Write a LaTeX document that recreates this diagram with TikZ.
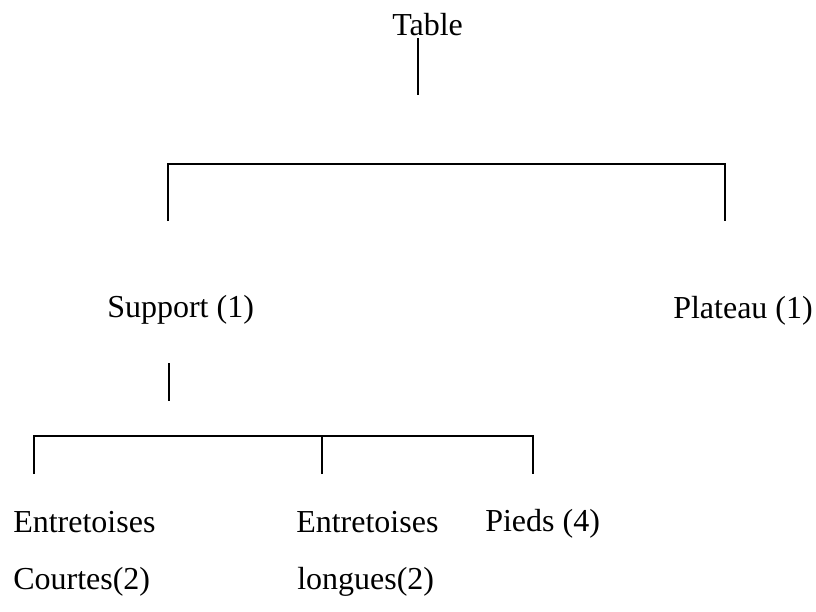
\documentclass[tikz,border=0pt]{standalone}
\usepackage{fontspec}
\setmainfont{Liberation Serif}
\usepackage{tikz}

\begin{document}
\begin{tikzpicture}[x=0.75pt, y=-0.75pt,
    part/.style={anchor=base west, inner sep=0pt, font=\fontsize{24}{28}\selectfont},
    link/.style={black, line width=1.2pt}]
  \useasboundingbox (0,0) rectangle (816,611);
  % labels
  \node[part] (table)   at (392,35)  {Table};
  \node[part] (support) at (107,317) {Support (1)};
  \node[part] (plateau) at (673,318) {Plateau (1)};
  \node[part] (entc)    at (13,532)  {Entretoises};
  \node[part] (entl)    at (296,532) {Entretoises};
  \node[part] (pieds)   at (485,531) {Pieds (4)};
  \node[part] (courtes) at (13,589)  {Courtes(2)};
  \node[part] (longues) at (297,589) {longues(2)};
  % table -> support, plateau
  \coordinate (t0) at (418,38);  \coordinate (t1) at (418,95);
  \coordinate (s0) at (168,221); \coordinate (p0) at (725,221);
  \draw[link] (t0) -- (t1);
  \draw[link] (s0) |- (p0 |- 0,164) -- (p0);
  % support -> entretoises, pieds
  \coordinate (u0) at (169,363); \coordinate (u1) at (169,401);
  \coordinate (c0) at (34,474);  \coordinate (l0) at (322,474);
  \coordinate (d0) at (533,474);
  \draw[link] (u0) -- (u1);
  \draw[link] (c0) |- (d0 |- 0,436) -- (d0);
  \draw[link] (l0) -- (l0 |- 0,436);
\end{tikzpicture}
\end{document}
